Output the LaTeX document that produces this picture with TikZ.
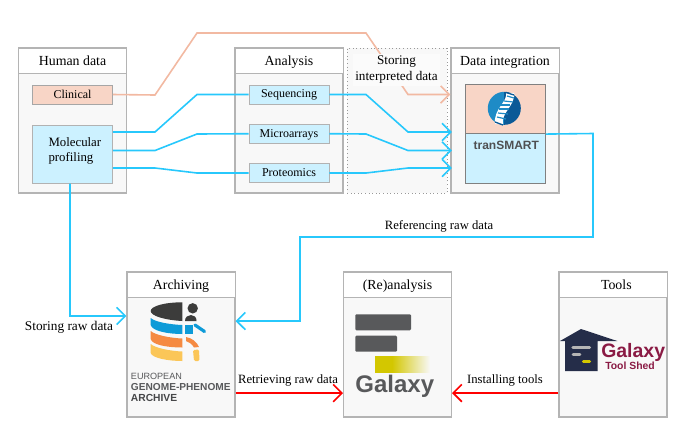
\documentclass[tikz,border=0pt]{standalone}
\usepackage{fontspec}
\setmainfont{Liberation Serif}
\setsansfont{Liberation Sans}
\usetikzlibrary{arrows.meta}
\definecolor{cyanline}{HTML}{27C8FC}
\definecolor{peachline}{HTML}{F2B9A2}
\definecolor{peachfill}{HTML}{F8D5C6}
\definecolor{bluefill}{HTML}{CCF1FF}
\definecolor{panelfill}{HTML}{F8F8F8}
\definecolor{panelline}{HTML}{B4B4B4}
\definecolor{logogrey}{HTML}{58595B}
\definecolor{dnalight}{HTML}{1E8BC6}
\definecolor{dnadark}{HTML}{0B5A97}
\definecolor{egadark}{HTML}{3C3C3B}
\definecolor{egablue}{HTML}{0E9BD8}
\definecolor{egaorange}{HTML}{F58A42}
\definecolor{egayellow}{HTML}{FBC658}
\definecolor{galyellow}{HTML}{D3C700}
\definecolor{shednavy}{HTML}{252D49}
\definecolor{shedgrey}{HTML}{B5B5B5}
\definecolor{shedred}{HTML}{8A1A44}
\tikzset{
  panel/.style={draw=panelline,fill=panelfill,line width=0.8pt,minimum width=81pt,minimum height=108.75pt,inner sep=0pt},
  paneltitle/.style={draw=panelline,fill=white,line width=0.6pt,minimum width=81pt,minimum height=18.75pt,inner sep=0pt,text height=10pt,text depth=2.2pt,font=\fontsize{10.4pt}{12pt}\selectfont},
  dotpanel/.style={draw=gray!80,dotted,line width=0.7pt,fill=panelfill,minimum width=75pt,minimum height=108.75pt,inner sep=0pt},
  peachbox/.style={draw=gray!70,fill=peachfill,line width=0.6pt,minimum width=60pt,minimum height=14.25pt,inner sep=0pt,text height=8.6pt,text depth=2pt,font=\fontsize{9pt}{10.5pt}\selectfont},
  bluebox/.style={draw=gray!60,fill=bluefill,line width=0.6pt,minimum width=60pt,minimum height=14.25pt,inner sep=0pt,text height=7.2pt,text depth=2pt,font=\fontsize{9pt}{10.5pt}\selectfont},
  lbl/.style={inner sep=0pt,font=\fontsize{9.5pt}{11.8pt}\selectfont},
  cyanconn/.style={draw=cyanline,line width=1.2pt},
  peachconn/.style={draw=peachline,line width=1.2pt},
  redconn/.style={draw=red,line width=1.2pt},
  tip/.style={-{Straight Barb[length=6.5pt,width=13pt,line width=1.2pt]}}
}
\begin{document}
\begin{tikzpicture}[x=0.75pt,y=-0.75pt]
\useasboundingbox (0,0) rectangle (689,430);
% panels
\node[panel] (human) at (72.5,120.5) {};
\node[paneltitle] (humant) at (72.5,60.5) {Human data};
\node[panel] (analysis) at (289,120.5) {};
\node[paneltitle] (analysist) at (289,60.5) {Analysis};
\node[dotpanel] (store) at (397,120.5) {};
\node[panel] (integ) at (505,120.5) {};
\node[paneltitle] (integt) at (505,60.5) {Data integration};
\node[panel] (arch) at (181,344.5) {};
\node[paneltitle] (archt) at (181,284.5) {Archiving};
\node[panel] (rean) at (397.5,344.5) {};
\node[paneltitle] (reant) at (397.5,284.5) {(Re)analysis};
\node[panel] (tools) at (613,344.5) {};
\node[paneltitle] (toolst) at (613,284.5) {\hspace*{5pt}Tools};
% inner boxes
\node[peachbox] (clin) at (72.5,94.5) {Clinical};
\node[bluebox,minimum height=43pt] (mol) at (72.5,154.5) {};
\node[lbl,align=left,anchor=west,font=\fontsize{9.6pt}{10.8pt}\selectfont] (moltext) at (48.3,151) {Molecular\\profiling};
\node[bluebox] (seq) at (289,94.5) {Sequencing};
\node[bluebox] (micro) at (289,133.7) {Microarrays};
\node[bluebox] (prot) at (289,173) {Proteomics};
\node[draw=gray,fill=peachfill,line width=0.6pt,minimum width=60.4pt,minimum height=37pt,inner sep=0pt] (tstop) at (505.3,109) {};
\node[draw=gray,fill=bluefill,line width=0.6pt,minimum width=60.4pt,minimum height=37pt,inner sep=0pt] (tsbot) at (505.3,158.3) {};
% connectors
\draw[peachconn,tip] (clin.east) -- (155,95) -- (197,33) -- (366,33) -- (408,94.5) -- ([yshift=19.5pt]integ.west);
\draw[cyanconn] ([yshift=16.9pt]mol.east) -- (155,132) -- (197,94.5) -- (seq.west);
\draw[cyanconn] ([yshift=3pt]mol.east) -- (155,150.5) -- (197,134) -- (micro.west);
\draw[cyanconn] ([yshift=-10.1pt]mol.east) -- (155,168) -- (197,173) -- (prot.west);
\draw[cyanconn,tip] (seq.east) -- (366,94.5) -- (408,132) -- ([xshift=1pt,yshift=-8.6pt]integ.west);
\draw[cyanconn,tip] (micro.east) -- (366,134) -- (408,150.5) -- ([xshift=1pt,yshift=-22.5pt]integ.west);
\draw[cyanconn,tip] (prot.east) -- (366,173) -- (408,168) -- ([xshift=1pt,yshift=-35.6pt]integ.west);
\draw[cyanconn,tip] (tstop.south east) -- (593,133.5) -- (593,237) -- (300,237) -- (300,321) -- ([yshift=17.6pt]arch.east);
\draw[cyanconn,tip] ([xshift=-1.9pt]mol.south) -- (70,316) -- ([yshift=21.4pt]arch.west);
\draw[redconn,tip] ([yshift=-36.4pt]arch.east) -- ([yshift=-36.4pt]rean.west);
\draw[redconn,tip] ([yshift=-36.4pt]tools.west) -- ([yshift=-36.4pt]rean.east);
% labels
\node[fill=panelfill!60!white,inner sep=0pt,align=center,minimum width=65.5pt,minimum height=24pt,font=\fontsize{9.9pt}{12pt}\selectfont] (storelbl) at (396.5,69.5) {Storing\\interpreted data};
\node[lbl] (ref) at (439,226) {Referencing raw data};
\node[lbl,font=\fontsize{10pt}{12pt}\selectfont] (stor) at (69,327) {Storing raw data};
\node[lbl] (retr) at (288,380) {Retrieving raw data};
\node[lbl] (inst) at (505,380) {Installing tools};
% tranSMART logo
\begin{scope}
\clip (504.3,108.3) circle[radius=12.4pt];
\fill[dnalight] (485,90) rectangle (504.3,127);
\fill[dnadark] (504.3,90) rectangle (524,127);
\end{scope}
\draw[white,line width=6pt] (510,93) .. controls (512,103) and (497,111) .. (499,124);
\foreach \xa/\ya/\xb/\yb in {507/96/514/98,504/101/513/102,500/105/510/105,499/109/509/109,498/113/508/114,497/117/506/119}{\draw[dnalight,line width=0.9pt] (\xa,\ya) -- (\xb,\yb);}
\draw[dnadark,line width=1pt] (506,92.5) -- (514,95);
\draw[dnadark,line width=1pt] (495,122) -- (503,125);
\node[inner sep=0pt,text=logogrey!90!black,font=\sffamily\bfseries\fontsize{9pt}{10pt}\selectfont] (tslogo) at (506.3,145.5) {tranSMART};
% EGA logo
\fill[egadark] (182.3,302.3) .. controls (165,302.3) and (150.7,306) .. (150.7,311) .. controls (150.7,316) and (165,320) .. (182.3,321) -- cycle;
\fill[egablue] (150.7,318) .. controls (155,322) and (170,324.5) .. (182.3,325) -- (182.3,334) .. controls (168,334) and (152,331) .. (150.7,325) -- cycle;
\fill[egaorange] (150.7,331) .. controls (155,335) and (170,338) .. (182.3,338.5) -- (182.3,347.5) .. controls (168,347.5) and (152,345) .. (150.7,339) -- cycle;
\fill[egayellow] (150.7,344) .. controls (155,348) and (170,351) .. (182.3,351.5) -- (182.3,361) .. controls (168,361) and (152,358) .. (150.7,353) -- cycle;
\fill[egadark] (192.7,308.3) circle[radius=3.9pt];
\fill[egadark] (185,321) .. controls (185,313) and (197,313) .. (196.5,321) -- cycle;
\fill[egablue] (185,324.5) -- (192.5,324.5) -- (192.5,334) -- (185,334) -- cycle;
\draw[egablue,line width=2.4pt,line cap=round] (195,325) -- (204.5,331.5);
\fill[egaorange] (186,337) .. controls (192,338) and (197,342) .. (199,347) -- (194,347.5) .. controls (192,344) and (189,342) .. (186,341) -- cycle;
\fill[egayellow,rounded corners=1pt] (193,350) -- (199,349.5) -- (199.5,361) -- (194,361) -- cycle;
\node[inner sep=0pt,anchor=west,text=logogrey,font=\sffamily\fontsize{6.8pt}{8pt}\selectfont] (ega1) at (130.7,376.7) {EUROPEAN};
\node[inner sep=0pt,anchor=west,text=logogrey,font=\sffamily\bfseries\fontsize{7.6pt}{8pt}\selectfont] (ega2) at (130.7,387.3) {GENOME-PHENOME};
\node[inner sep=0pt,anchor=west,text=logogrey!80!black,font=\sffamily\bfseries\fontsize{7.7pt}{8pt}\selectfont] (ega3) at (130.7,397.8) {ARCHIVE};
% Galaxy logo
\fill[logogrey,rounded corners=0.8pt] (355.3,314.3) rectangle (411,330.3);
\fill[logogrey,rounded corners=0.8pt] (355.3,335.7) rectangle (397,351.7);
\fill[galyellow] (374.5,356.3) rectangle (392,372.7);
\shade[left color=galyellow,right color=panelfill] (392,356.3) rectangle (430,372.7);
\node[inner sep=0pt,anchor=base,text=logogrey,font=\sffamily\bfseries\fontsize{18pt}{20pt}\selectfont] (gal) at (394.8,392.5) {Galaxy};
% Tool Shed logo
\fill[shednavy] (560,341) -- (581,329) -- (617.3,341) -- (597.7,341) -- (597.7,371) -- (565,371) -- (565,341) -- cycle;
\draw[shedgrey,line width=2.4pt,line cap=round] (573,347.7) -- (589.5,347.7);
\draw[shedgrey,line width=2.2pt,line cap=round] (573,354.7) -- (580,354.7);
\draw[galyellow,line width=2.6pt,line cap=round] (583.5,361.5) -- (589.5,361.5);
\node[inner sep=0pt,anchor=base west,text=shedred,font=\sffamily\bfseries\fontsize{14.6pt}{16pt}\selectfont] (tsg) at (601,357) {Galaxy};
\node[inner sep=0pt,anchor=base west,text=shedred,font=\sffamily\bfseries\fontsize{7.8pt}{9pt}\selectfont] (tss) at (605,369.5) {Tool Shed};
\end{tikzpicture}
\end{document}
